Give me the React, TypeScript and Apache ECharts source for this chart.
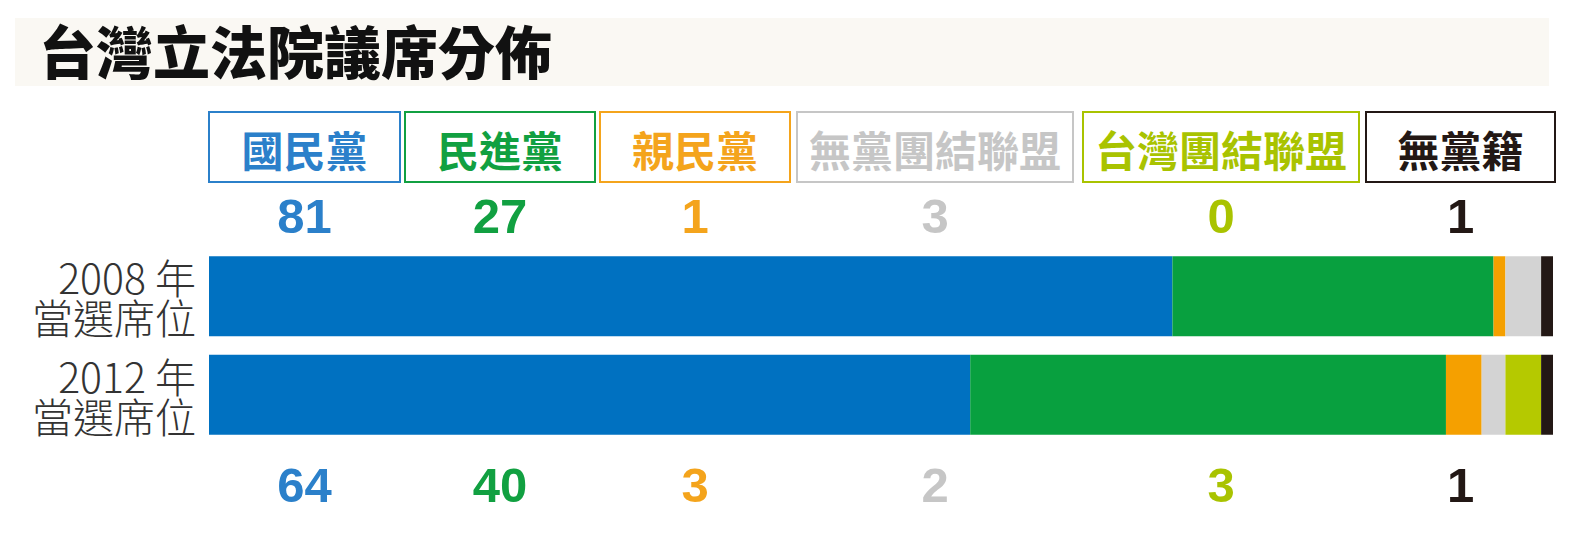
import React, { useEffect, useRef } from "react";
import * as echarts from "echarts";

const title = "台灣立法院議席分佈";
const parties = ["國民黨", "民進黨", "親民黨", "無黨團結聯盟", "台灣團結聯盟", "無黨籍"];
const years = ["2008 年\n當選席位", "2012 年\n當選席位"];
const seats2008 = [81, 27, 1, 3, 0, 1];
const seats2012 = [64, 40, 3, 2, 3, 1];
const barColors = ["#0071c1", "#08a03f", "#f5a000", "#d3d3d3", "#b5c900", "#231815"];
const textColors = ["#2b80ca", "#11a041", "#f4a41c", "#c6c6c6", "#a9c300", "#231815"];

// legend box layout
const boxX = [209, 405, 600, 797, 1083, 1366];
const boxW = [191, 190, 190, 276, 276, 189];
const FONT = '"Noto Sans CJK TC", "Noto Sans CJK SC", sans-serif';
const NUM_FONT = '"Liberation Sans", Arial, sans-serif';

const App = () => {
  const chartRef = useRef<HTMLDivElement>(null);

  useEffect(() => {
    const myChart = echarts.init(chartRef.current!, null, { renderer: "svg" });

    const graphics: any[] = [
      {
        type: "rect",
        shape: { x: 15, y: 18, width: 1534, height: 68 },
        style: { fill: "#faf8f3" },
        silent: true,
      },
    ];
    parties.forEach((p, i) => {
      const cx = boxX[i] + boxW[i] / 2;
      graphics.push({
        type: "rect",
        shape: { x: boxX[i], y: 112, width: boxW[i], height: 70 },
        style: { fill: "#fff", stroke: textColors[i], lineWidth: 2 },
      });
      graphics.push({
        type: "text",
        x: cx,
        y: 148,
        style: {
          text: p,
          fill: textColors[i],
          font: `bold 42px ${FONT}`,
          textAlign: "center",
          textVerticalAlign: "middle",
        },
      });
      graphics.push({
        type: "text",
        x: cx,
        y: 216,
        style: {
          text: String(seats2008[i]),
          fill: textColors[i],
          font: `bold 49px ${NUM_FONT}`,
          textAlign: "center",
          textVerticalAlign: "middle",
        },
      });
      graphics.push({
        type: "text",
        x: cx,
        y: 485,
        style: {
          text: String(seats2012[i]),
          fill: textColors[i],
          font: `bold 49px ${NUM_FONT}`,
          textAlign: "center",
          textVerticalAlign: "middle",
        },
      });
    });

    const option = {
      animation: false,
      backgroundColor: "#fff",
      title: {
        text: title,
        left: 34,
        top: 15,
        textStyle: {
          fontFamily: FONT,
          fontWeight: 900,
          fontSize: 57,
          color: "#111",
        },
      },
      graphic: graphics,
      grid: { left: 209, right: 33, top: 247, bottom: 96 },
      xAxis: {
        type: "value",
        min: 0,
        max: 113,
        show: false,
      },
      yAxis: {
        type: "category",
        data: years,
        inverse: true,
        axisLine: { show: false },
        axisTick: { show: false },
        axisLabel: {
          margin: 13,
          fontFamily: FONT,
          fontSize: 41,
          lineHeight: 40,
          fontWeight: 300,
          color: "#333",
        },
      },
      series: parties.map((p, i) => ({
        name: p,
        type: "bar",
        stack: "seats",
        barWidth: 80,
        itemStyle: { color: barColors[i] },
        data: [seats2008[i], seats2012[i]],
      })),
    };
    myChart.setOption(option);

    return () => {
      myChart.dispose();
    };
  }, []);

  return (
    <div
      ref={chartRef}
      style={{ position: "fixed", left: 0, top: 0, width: 1586, height: 540 }}
    ></div>
  );
};
export default App;
